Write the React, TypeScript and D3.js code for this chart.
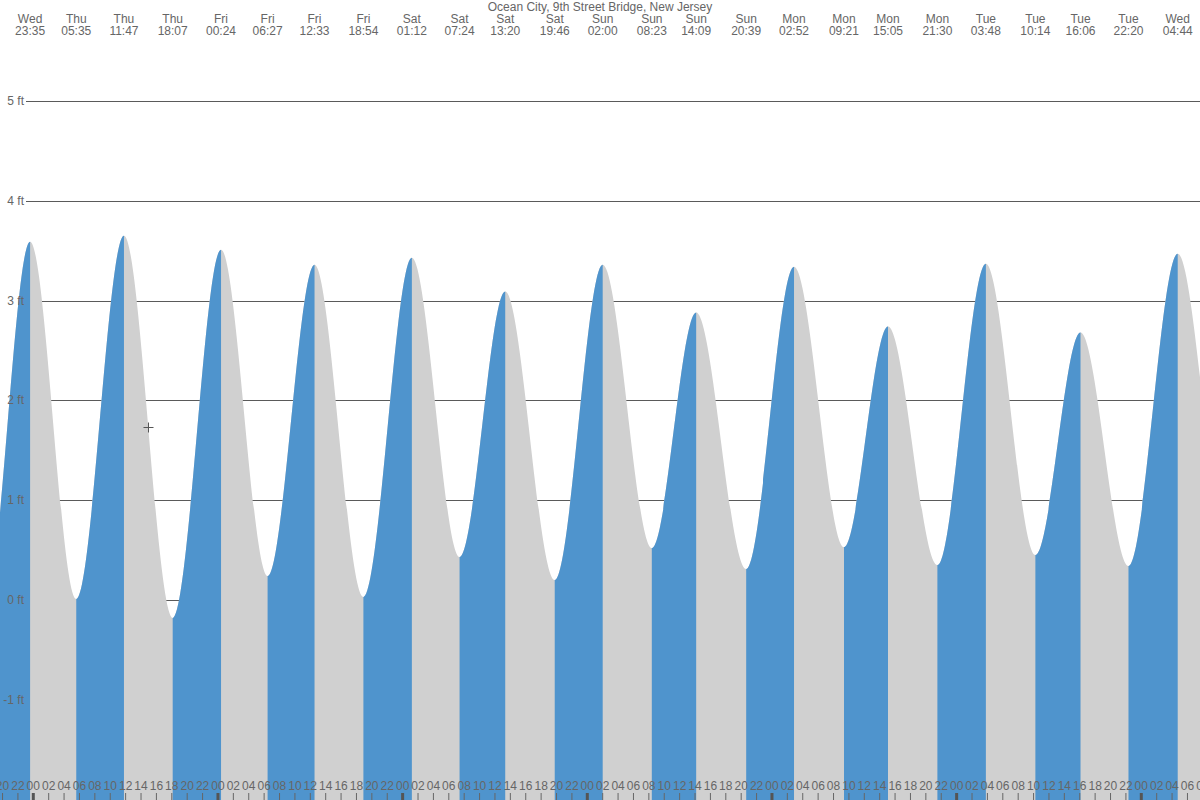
import { useEffect, useRef } from 'react';
import * as d3 from 'd3';

// tide extremes (UTC used as local clock), off-screen ones keep the curve shape at the edges
const extremeTimes = [
  '2024-01-03T11:20', '2024-01-03T17:45', '2024-01-03T23:35',
  '2024-01-04T05:35', '2024-01-04T11:47', '2024-01-04T18:07',
  '2024-01-05T00:24', '2024-01-05T06:27', '2024-01-05T12:33', '2024-01-05T18:54',
  '2024-01-06T01:12', '2024-01-06T07:24', '2024-01-06T13:20', '2024-01-06T19:46',
  '2024-01-07T02:00', '2024-01-07T08:23', '2024-01-07T14:09', '2024-01-07T20:39',
  '2024-01-08T02:52', '2024-01-08T09:21', '2024-01-08T15:05', '2024-01-08T21:30',
  '2024-01-09T03:48', '2024-01-09T10:14', '2024-01-09T16:06', '2024-01-09T22:20',
  '2024-01-10T04:44', '2024-01-10T11:15', '2024-01-10T17:20',
];
const extremeHeights = [
  3.45, -0.05, 3.59,
  0.01, 3.65, -0.18,
  3.51, 0.24, 3.36, 0.03,
  3.43, 0.43, 3.09, 0.2,
  3.36, 0.52, 2.88, 0.31,
  3.34, 0.53, 2.74, 0.35,
  3.37, 0.45, 2.68, 0.34,
  3.47, 0.5, 2.9,
];
const yTicks = [-1, 0, 1, 2, 3, 4, 5];
const title = 'Ocean City, 9th Street Bridge, New Jersey';
const nowTime = '2024-01-04T14:55';
const nowHeight = 1.73;

const W = 1200;
const H = 800;
const FONT = '"Liberation Sans", Arial, sans-serif';
const TEXT = '#666';
const BLUE = '#4f94cd';
const GRAY = '#d0d0d0';

const parse = (s: string) => new Date(s + ':00Z');

export default function App() {
  const svgRef = useRef<SVGSVGElement>(null);

  useEffect(() => {
    document.body.style.margin = '0';
    if (!svgRef.current) return;
    const svg = d3.select(svgRef.current);
    svg.selectAll('*').remove();

    const pts = extremeTimes.map((t, i) => ({ t: parse(t), h: extremeHeights[i] }));

    const x = d3
      .scaleUtc()
      .domain([parse('2024-01-04T00:00'), parse('2024-01-10T00:00')])
      .range([33.3, 1141.3]);
    const y = d3.scaleLinear().domain([0, 5]).range([600, 101]);

    // grid behind the water
    svg
      .append('g')
      .selectAll('line')
      .data(yTicks)
      .enter()
      .append('line')
      .attr('x1', 26)
      .attr('x2', W)
      .attr('y1', (d) => Math.round(y(d)) + 0.5)
      .attr('y2', (d) => Math.round(y(d)) + 0.5)
      .attr('stroke', '#5a5a5a')
      .attr('stroke-width', 1);

    const area = d3
      .area<{ t: Date; h: number }>()
      .x((d) => x(d.t))
      .y0(H)
      .y1((d) => y(d.h))
      .curve(d3.curveMonotoneX);

    const defs = svg.append('defs');
    const water = svg.append('g');
    water.append('path').attr('d', area(pts) || '').attr('fill', GRAY);

    // rising parts in blue
    pts.slice(0, -1).forEach((p, i) => {
      const q = pts[i + 1];
      if (q.h <= p.h) return;
      const id = `rise-${i}`;
      defs
        .append('clipPath')
        .attr('id', id)
        .append('rect')
        .attr('x', x(p.t))
        .attr('y', 0)
        .attr('width', x(q.t) - x(p.t))
        .attr('height', H);
      water
        .append('path')
        .attr('d', area(pts) || '')
        .attr('fill', BLUE)
        .attr('clip-path', `url(#${id})`);
    });

    // y labels
    svg
      .append('g')
      .selectAll('text')
      .data(yTicks)
      .enter()
      .append('text')
      .attr('x', 24)
      .attr('y', (d) => y(d) + 4)
      .attr('text-anchor', 'end')
      .attr('font-family', FONT)
      .attr('font-size', 12)
      .attr('fill', TEXT)
      .text((d) => `${d} ft`);

    // hour ticks along the bottom
    const hours = x.ticks(d3.utcHour.every(2) as d3.TimeInterval).filter((d) => {
      const px = x(d);
      return px > -10 && px < W + 10;
    });
    const fullDomain = [x.invert(-10), x.invert(W + 10)];
    const hourTicks = d3.utcHour.every(2)!.range(fullDomain[0], fullDomain[1]);
    const bottom = svg.append('g');
    (hourTicks.length ? hourTicks : hours).forEach((d) => {
      const px = x(d);
      const midnight = d.getUTCHours() === 0;
      bottom
        .append('line')
        .attr('x1', px)
        .attr('x2', px)
        .attr('y1', 793)
        .attr('y2', H)
        .attr('stroke', midnight ? '#555' : '#666')
        .attr('stroke-width', midnight ? 3 : 1);
      bottom
        .append('text')
        .attr('x', px)
        .attr('y', 790)
        .attr('text-anchor', 'middle')
        .attr('font-family', FONT)
        .attr('font-size', 12)
        .attr('fill', TEXT)
        .text(d3.utcFormat('%H')(d));
    });

    // header
    svg
      .append('text')
      .attr('x', W / 2)
      .attr('y', 11)
      .attr('text-anchor', 'middle')
      .attr('font-family', FONT)
      .attr('font-size', 12)
      .attr('fill', TEXT)
      .text(title);

    const header = svg.append('g');
    pts
      .filter((p) => x(p.t) >= 0 && x(p.t) <= W)
      .forEach((p) => {
        const px = x(p.t);
        header
          .append('text')
          .attr('x', px)
          .attr('y', 23)
          .attr('text-anchor', 'middle')
          .attr('font-family', FONT)
          .attr('font-size', 12)
          .attr('fill', TEXT)
          .text(d3.utcFormat('%a')(p.t));
        header
          .append('text')
          .attr('x', px)
          .attr('y', 35)
          .attr('text-anchor', 'middle')
          .attr('font-family', FONT)
          .attr('font-size', 12)
          .attr('fill', TEXT)
          .text(d3.utcFormat('%H:%M')(p.t));
      });

    // current time marker
    const cx = Math.round(x(parse(nowTime))) + 0.5;
    const cy = Math.round(y(nowHeight)) + 0.5;
    svg
      .append('path')
      .attr('d', `M${cx - 5},${cy}H${cx + 5}M${cx},${cy - 5}V${cy + 5}`)
      .attr('stroke', '#555')
      .attr('stroke-width', 1);
  }, []);

  return <svg ref={svgRef} width={W} height={H} style={{ display: 'block' }} />;
}
